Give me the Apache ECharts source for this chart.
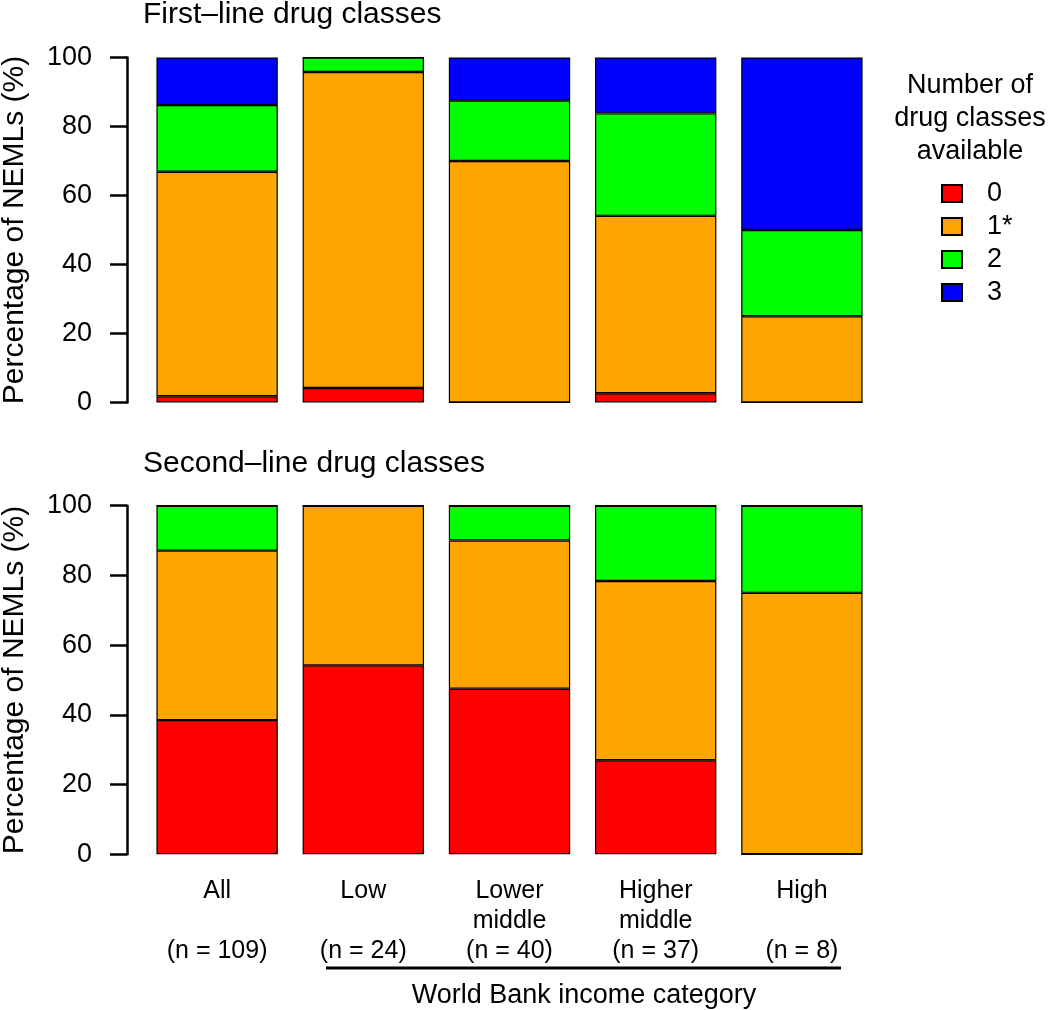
<!DOCTYPE html>
<html>
<head>
<meta charset="utf-8">
<script src="https://cdn.jsdelivr.net/npm/echarts@6/dist/echarts.min.js"></script>
<style>
html,body{margin:0;padding:0;background:#fff;}
#chart{width:1050px;height:1010px;}
</style>
</head>
<body>
<div id="chart"></div>
<script>
// ---- data (percent of NEMLs) ----
const categories = ['All', 'Low', 'Lower\nmiddle', 'Higher\nmiddle', 'High'];
const sampleSizes = ['(n = 109)', '(n = 24)', '(n = 40)', '(n = 37)', '(n = 8)'];
const classLabels = ['0', '1*', '2', '3'];
const classColors = ['#FF0000', '#FFA500', '#00FF00', '#0000FF'];

const firstLine0 = [1.8, 4.2, 0, 2.7, 0];
const firstLine1 = [65.1, 91.6, 70.0, 51.4, 25.0];
const firstLine2 = [19.3, 4.2, 17.5, 29.7, 25.0];
const firstLine3 = [13.8, 0, 12.5, 16.2, 50.0];

const secondLine0 = [38.5, 54.2, 47.5, 27.0, 0];
const secondLine1 = [48.6, 45.8, 42.5, 51.4, 75.0];
const secondLine2 = [12.9, 0, 10.0, 21.6, 25.0];
const secondLine3 = [0, 0, 0, 0, 0];

const yTicks = [0, 20, 40, 60, 80, 100];

const FONT = '"Liberation Sans", Arial, Helvetica, sans-serif';
const chart = echarts.init(document.getElementById('chart'), null, {renderer: 'canvas'});

const firstSets = [firstLine0, firstLine1, firstLine2, firstLine3];
const secondSets = [secondLine0, secondLine1, secondLine2, secondLine3];

function makeSeries(sets, gridIdx, stackName) {
  return sets.map((vals, i) => ({
    name: classLabels[i],
    type: 'bar',
    xAxisIndex: gridIdx,
    yAxisIndex: gridIdx,
    stack: stackName,
    barCategoryGap: '17%',
    data: vals,
    itemStyle: {color: classColors[i], borderColor: '#000', borderWidth: 1.2},
    emphasis: {disabled: true},
    silent: true
  }));
}

function yAxisDef(gridIdx) {
  return {
    type: 'value',
    gridIndex: gridIdx,
    position: 'left',
    min: 0, max: 100, interval: 20,
    offset: 17,
    name: 'Percentage of NEMLs (%)',
    nameLocation: 'middle',
    nameGap: 97,
    nameTextStyle: {fontFamily: FONT, fontSize: 30, color: '#000'},
    axisLine: {show: true, onZero: false, lineStyle: {color: '#000', width: 2.5}},
    axisTick: {show: true, length: 17, lineStyle: {color: '#000', width: 2.5}},
    axisLabel: {
      margin: 35, fontFamily: FONT, fontSize: 27, color: '#000',
      formatter: v => yTicks.includes(v) ? String(v) : ''
    },
    splitLine: {show: false}
  };
}

const option = {
  backgroundColor: '#fff',
  animation: false,
  title: [
    {text: 'First\u2013line drug classes', left: 143, top: 0, padding: 0,
     textStyle: {fontFamily: FONT, fontSize: 30, fontWeight: 'normal', color: '#000'}},
    {text: 'Second\u2013line drug classes', left: 143, top: 449, padding: 0,
     textStyle: {fontFamily: FONT, fontSize: 30, fontWeight: 'normal', color: '#000'}},
    {text: 'Number of\ndrug classes\navailable', left: 970, top: 69, padding: 0, textAlign: 'center',
     textStyle: {fontFamily: FONT, fontSize: 27, fontWeight: 'normal', color: '#000', lineHeight: 33, align: 'center'}}
  ],
  legend: {
    data: classLabels,
    orient: 'vertical',
    left: 941, top: 180,
    itemWidth: 20, itemHeight: 17, itemGap: 6,
    icon: 'rect',
    selectedMode: false,
    padding: 0,
    textStyle: {fontFamily: FONT, fontSize: 27, color: '#000', lineHeight: 27, padding: [0, 0, 0, 20]}
  },
  grid: [
    {left: 144, width: 731, top: 57.5, height: 345, outerBoundsMode: 'none', containLabel: false},
    {left: 144, width: 731, top: 505.7, height: 348.6, outerBoundsMode: 'none', containLabel: false}
  ],
  xAxis: [
    {type: 'category', gridIndex: 0, data: categories,
     axisLine: {show: false}, axisTick: {show: false}, axisLabel: {show: false}},
    {type: 'category', gridIndex: 1, data: categories,
     axisLine: {show: false}, axisTick: {show: false},
     axisLabel: {
       margin: 22, interval: 0, fontFamily: FONT, fontSize: 25, color: '#000', lineHeight: 30,
       formatter: (v, i) => {
         const parts = v.split('\n');
         const l2 = parts.length > 1 ? parts[1] : ' ';
         return parts[0] + '\n' + l2 + '\n' + sampleSizes[i];
       }
     }}
  ],
  yAxis: [yAxisDef(0), yAxisDef(1)],
  series: [...makeSeries(firstSets, 0, 'first'), ...makeSeries(secondSets, 1, 'second')],
  graphic: [
    {type: 'line', shape: {x1: 326, y1: 968, x2: 841, y2: 968},
     style: {stroke: '#000', lineWidth: 3}},
    {type: 'text', x: 584, y: 996,
     style: {text: 'World Bank income category', font: '27px ' + FONT, fill: '#000',
             textAlign: 'center', textVerticalAlign: 'middle'}}
  ]
};
chart.setOption(option);
</script>
</body>
</html>
